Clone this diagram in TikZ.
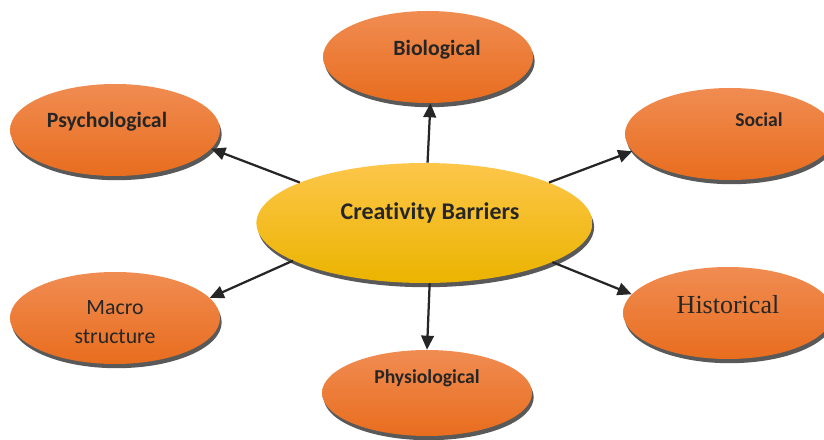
\documentclass[tikz,border=0pt]{standalone}
\usepackage{fontspec}
\setmainfont[Ligatures=NoCommon]{Carlito}
\newfontfamily\histfont{Liberation Serif}
\usetikzlibrary{shapes.geometric,shadows,arrows.meta}
\definecolor{orangetop}{HTML}{F08C52}
\definecolor{orangebot}{HTML}{E86D1E}
\definecolor{goldtop}{HTML}{FDC64A}
\definecolor{goldmid}{HTML}{FFC400}
\definecolor{goldbot}{HTML}{EBB400}
\tikzset{
  barrier/.style={ellipse, inner sep=0pt, minimum width=5.25cm, minimum height=2.3cm,
    top color=orangetop, bottom color=orangebot,
    drop shadow={shadow xshift=1.2pt, shadow yshift=-3pt, fill=black!65, opacity=1}},
  hub/.style={ellipse, inner sep=0pt, minimum width=8.4cm, minimum height=3cm,
    top color=goldtop, middle color=goldmid, bottom color=goldbot,
    drop shadow={shadow xshift=1.2pt, shadow yshift=-3pt, fill=black!65, opacity=1}},
  label/.style={font=\bfseries\fontsize{15.5}{18}\selectfont, text=black!85},
  link/.style={-{Triangle[length=10pt,width=9pt]}, line width=1.6pt, draw=black!85}
}
\begin{document}
\begin{tikzpicture}
    \useasboundingbox (0,0) rectangle (20.6,11);
    % ellipses
    \node[hub] (hub) at (10.61,5.425) {};
    \node[barrier] (bio) at (10.7,9.575) {};
    \node[barrier] (psych) at (2.875,7.75) {};
    \node[barrier] (social) at (18.25,7.65) {};
    \node[barrier] (macro) at (2.875,3.05) {};
    \node[barrier] (hist) at (18.2,3.175) {};
    \node[barrier, minimum height=2.15cm] (physio) at (10.675,1.175) {};

    % texts
    \node[label, font=\bfseries\fontsize{17}{20}\selectfont] (hubT) at (10.75,5.675) {Creativity Barriers};
    \node[label] (bioT) at (10.925,9.75) {Biological};
    \node[label] (psychT) at (2.675,7.95) {Psychological};
    \node[label, font=\bfseries\fontsize{14}{17}\selectfont] (socialT) at (18.975,8.0) {Social};
    \node[label, font=\fontsize{15.5}{21}\selectfont, align=center] (macroT) at (2.875,2.95) {Macro\\structure};
    \node[label, font=\histfont\fontsize{18.5}{21}\selectfont] (histT) at (18.2,3.375) {Historical};
    \node[label, font=\bfseries\fontsize{14}{17}\selectfont] (physioT) at (10.675,1.55) {Physiological};

    % arrows
    \foreach \a/\t/\b in {87/bio/-87, 162.6/psych/-11, 18/social/190,
        196.6/macro/12.7, -17/hist/169, -85/physio/90}{
        \draw[link] (hub.\a) -- (\t.\b);
    }
\end{tikzpicture}
\end{document}
